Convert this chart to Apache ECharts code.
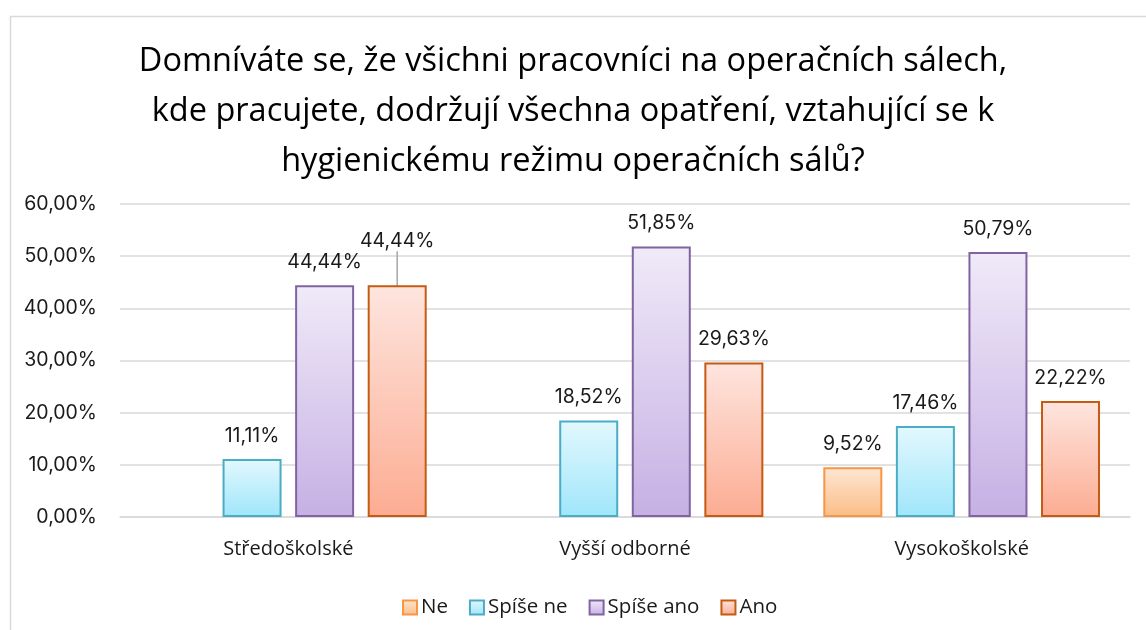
<!DOCTYPE html>
<html>
<head>
<meta charset="utf-8">
<script src="https://cdn.jsdelivr.net/npm/echarts@6/dist/echarts.min.js"></script>
<style>
html,body{margin:0;padding:0;background:#fff;}
#chart{width:1146px;height:630px;}
</style>
</head>
<body>
<div id="chart"></div>
<script>
const titleText = 'Domníváte se, že všichni pracovníci na operačních sálech,\nkde pracujete, dodržují všechna opatření, vztahující se k\nhygienickému režimu operačních sálů?';
const categories = ['Středoškolské', 'Vyšší odborné', 'Vysokoškolské'];
const seriesNames = ['Ne', 'Spíše ne', 'Spíše ano', 'Ano'];
const valNe = [null, null, 9.52];
const valSpiseNe = [11.11, 18.52, 17.46];
const valSpiseAno = [44.44, 51.85, 50.79];
const valAno = [44.44, 29.63, 22.22];
const yTicks = [0, 10, 20, 30, 40, 50, 60];

const FONT = 'Open Sans';
const NUMFONT = 'Inter';
const styles = [
  {top: '#fde6d3', bottom: '#fbbd87', border: '#f79646'},
  {top: '#e3f8fe', bottom: '#9fe6fa', border: '#4bacc6'},
  {top: '#f0eaf8', bottom: '#c6b0e4', border: '#8064a2'},
  {top: '#fee5df', bottom: '#fcac92', border: '#c55a11'}
];
const values = [valNe, valSpiseNe, valSpiseAno, valAno];

function fmt(v){ return v.toFixed(2).replace('.', ',') + '%'; }

const chart = echarts.init(document.getElementById('chart'), null, {renderer: 'canvas'});

const series = seriesNames.map((name, i) => ({
  name: name,
  type: 'bar',
  data: values[i].map((v, j) => {
    if (i === 3 && j === 0) {
      return {value: v, labelLine: {show: true, lineStyle: {color: '#a6a6a6', width: 1.5}}};
    }
    return v;
  }),
  barWidth: 59,
  barGap: '23%',
  itemStyle: {
    color: new echarts.graphic.LinearGradient(0, 0, 0, 1, [
      {offset: 0, color: styles[i].top},
      {offset: 1, color: styles[i].bottom}
    ]),
    borderColor: styles[i].border,
    borderWidth: 2
  },
  label: {
    show: true,
    position: 'top',
    distance: 13,
    fontFamily: NUMFONT,
    fontSize: 19.5,
    color: '#1a1a1a',
    formatter: p => p.value == null ? '' : fmt(p.value)
  },
  labelLine: {show: false},
  labelLayout: i === 3 ? function (params) {
    if (params.dataIndex === 0) return {dy: -21};
    return {};
  } : undefined
}));

chart.setOption({
  animation: false,
  backgroundColor: '#fff',
  graphic: [{
    type: 'rect',
    left: 8, top: 14,
    shape: {width: 1160, height: 640},
    style: {fill: 'none', stroke: '#d9d9d9', lineWidth: 1.5},
    silent: true, z: -10
  }],
  title: {
    text: titleText,
    left: 'center',
    top: 32,
    textStyle: {fontFamily: FONT, fontSize: 32.5, fontWeight: 'normal', color: '#000', lineHeight: 50}
  },
  legend: {
    data: seriesNames,
    left: 397,
    top: 592,
    itemWidth: 14,
    itemHeight: 14,
    itemGap: 21,
    textStyle: {fontFamily: FONT, fontSize: 20.5, color: '#1a1a1a', padding: [0, 0, 0, -1]},
    icon: 'rect'
  },
  grid: {left: 120, right: 16, top: 204, bottom: 113, containLabel: false},
  xAxis: {
    type: 'category',
    data: categories,
    axisLine: {lineStyle: {color: '#d9d9d9', width: 1.5}},
    axisTick: {show: false},
    axisLabel: {fontFamily: FONT, fontSize: 20, color: '#1a1a1a', margin: 22}
  },
  yAxis: {
    type: 'value',
    min: yTicks[0],
    max: yTicks[yTicks.length - 1],
    interval: 10,
    axisLine: {show: false},
    axisTick: {show: false},
    splitLine: {lineStyle: {color: '#d9d9d9', width: 1.5}},
    axisLabel: {fontFamily: NUMFONT, fontSize: 19.5, color: '#1a1a1a', margin: 23,
      formatter: v => v.toFixed(2).replace('.', ',') + '%'}
  },
  series: series
});
</script>
</body>
</html>
